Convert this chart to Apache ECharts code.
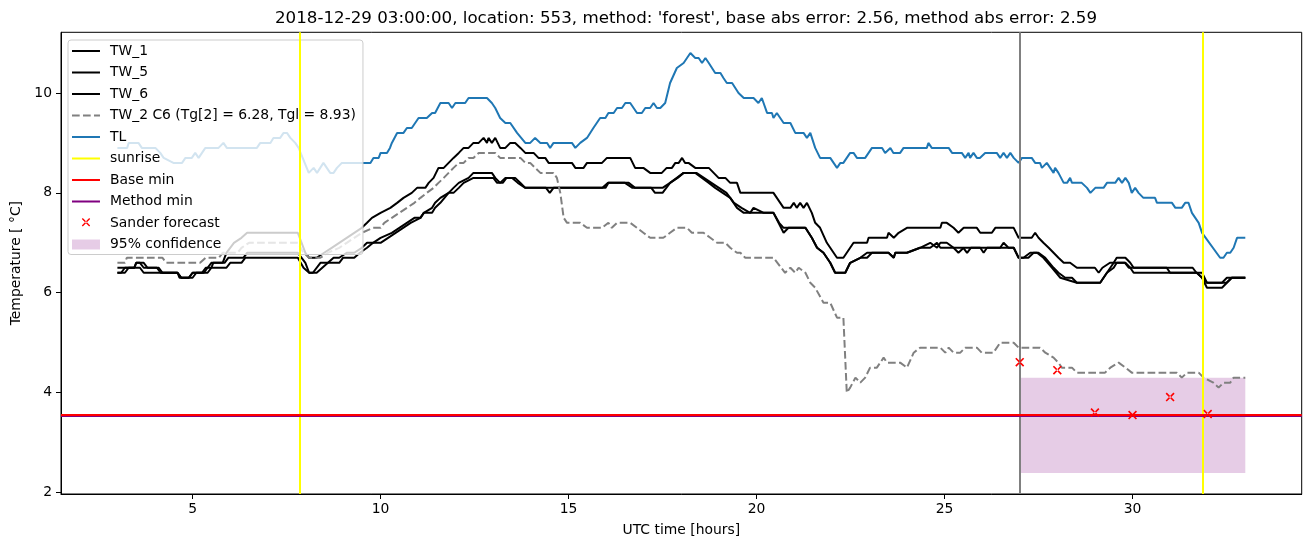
<!DOCTYPE html>
<html><head><meta charset="utf-8">
<script src="https://cdn.jsdelivr.net/npm/echarts@6/dist/echarts.min.js"></script>
<style>html,body{margin:0;padding:0;background:#fff}#c{width:1310px;height:547px}</style>
</head><body><div id="c"></div>
<script>
const titleText = "2018-12-29 03:00:00, location: 553, method: 'forest', base abs error: 2.56, method abs error: 2.59";
const xTicks = [5, 10, 15, 20, 25, 30];
const yTicks = [2, 4, 6, 8, 10];

const TW_1 = [[3.0,6.5],[3.45,6.5],[3.5,6.6],[3.7,6.6],[3.8,6.5],[4.1,6.5],[4.2,6.4],[4.6,6.4],[4.7,6.3],[4.9,6.3],[5.0,6.4],[5.3,6.4],[5.4,6.5],[5.5,6.6],[5.8,6.6],[5.9,6.8],[6.1,7.0],[6.3,7.1],[6.45,7.2],[7.8,7.2],[7.9,7.0],[8.0,6.8],[8.1,6.7],[8.3,6.7],[8.5,6.8],[8.7,6.9],[8.9,7.0],[9.1,7.1],[9.3,7.2],[9.5,7.3],[9.64,7.4],[9.77,7.5],[10.0,7.6],[10.26,7.7],[10.44,7.8],[10.61,7.9],[10.83,8.0],[10.97,8.1],[11.19,8.1],[11.28,8.2],[11.41,8.3],[11.54,8.5],[11.68,8.5],[11.81,8.6],[11.94,8.7],[12.08,8.8],[12.21,8.9],[12.34,8.9],[12.47,9.0],[12.61,9.0],[12.74,9.1],[12.83,9.0],[12.87,9.1],[12.96,9.0],[13.05,9.1],[13.18,8.9],[13.32,8.9],[13.45,9.0],[13.58,9.0],[13.72,8.9],[13.85,8.8],[14.07,8.8],[14.20,8.7],[14.38,8.7],[14.47,8.6],[15.09,8.6],[15.18,8.5],[15.40,8.5],[15.49,8.6],[15.89,8.6],[16.02,8.7],[16.64,8.7],[16.77,8.5],[16.99,8.5],[17.17,8.4],[17.48,8.4],[17.61,8.5],[17.75,8.5],[17.84,8.6],[17.93,8.6],[18.02,8.7],[18.10,8.6],[18.19,8.6],[18.37,8.5],[18.73,8.5],[18.86,8.4],[18.99,8.3],[19.17,8.3],[19.30,8.2],[19.48,8.2],[19.57,8.0],[20.45,8.0],[20.72,7.7],[20.90,7.7],[20.99,7.8],[21.07,7.7],[21.16,7.8],[21.25,7.7],[21.34,7.8],[21.47,7.6],[21.56,7.4],[21.69,7.3],[21.87,7.0],[22.14,6.7],[22.31,6.7],[22.58,7.0],[22.94,7.0],[22.98,7.1],[23.47,7.1],[23.51,7.2],[23.65,7.1],[23.78,7.2],[24.00,7.3],[24.89,7.3],[24.93,7.4],[25.06,7.4],[25.24,7.3],[25.37,7.2],[25.51,7.3],[25.86,7.3],[25.95,7.2],[26.26,7.2],[26.35,7.3],[26.84,7.3],[26.97,7.1],[27.32,7.1],[27.41,7.2],[27.50,7.1],[27.63,7.0],[27.77,6.9],[27.90,6.8],[28.03,6.7],[28.17,6.6],[28.34,6.6],[28.52,6.5],[29.0,6.5],[29.1,6.4],[29.2,6.5],[29.4,6.6],[29.8,6.6],[29.9,6.5],[31.6,6.5],[31.7,6.4],[31.85,6.4],[31.98,6.2],[32.5,6.2],[32.64,6.3],[33.0,6.3]];

const TW_5 = [[3.0,6.4],[3.1,6.4],[3.2,6.5],[3.45,6.5],[3.5,6.6],[3.6,6.6],[3.7,6.5],[4.05,6.5],[4.15,6.4],[4.6,6.4],[4.65,6.3],[4.9,6.3],[5.0,6.4],[5.25,6.4],[5.35,6.5],[5.5,6.5],[5.55,6.6],[5.85,6.6],[5.95,6.7],[6.35,6.7],[6.45,6.8],[7.8,6.8],[8.0,6.6],[8.1,6.4],[8.2,6.4],[8.4,6.6],[8.6,6.6],[8.75,6.7],[8.9,6.7],[9.1,6.8],[9.3,6.8],[9.5,6.9],[9.64,7.0],[9.8,7.0],[10.0,7.1],[10.3,7.2],[10.5,7.3],[10.7,7.4],[10.9,7.5],[11.06,7.5],[11.15,7.6],[11.37,7.7],[11.45,7.8],[11.59,7.9],[11.81,8.0],[11.94,8.1],[12.08,8.2],[12.34,8.3],[12.47,8.4],[12.96,8.4],[13.05,8.3],[13.18,8.2],[13.32,8.3],[13.58,8.3],[13.72,8.2],[13.85,8.1],[15.98,8.1],[16.06,8.2],[16.6,8.2],[16.77,8.1],[17.5,8.1],[17.7,8.2],[17.88,8.3],[18.06,8.4],[18.37,8.4],[18.55,8.3],[18.73,8.2],[18.9,8.1],[19.1,8.0],[19.3,7.9],[19.48,7.7],[19.66,7.6],[20.45,7.6],[20.6,7.4],[20.72,7.3],[21.3,7.3],[21.47,7.1],[21.61,6.9],[21.78,6.8],[21.96,6.6],[22.09,6.4],[22.36,6.4],[22.49,6.6],[22.76,6.7],[22.94,6.7],[23.07,6.8],[23.51,6.8],[23.65,6.7],[23.69,6.8],[24.0,6.8],[24.35,6.9],[24.62,7.0],[24.80,6.9],[24.89,7.0],[25.06,7.0],[25.24,6.9],[25.37,6.8],[25.51,6.9],[25.95,6.9],[26.04,6.8],[26.13,6.9],[26.48,6.9],[26.57,7.0],[26.70,6.9],[26.84,6.9],[26.97,6.7],[27.10,6.7],[27.28,6.8],[27.46,6.8],[27.63,6.7],[27.86,6.5],[28.08,6.3],[28.52,6.2],[29.14,6.2],[29.32,6.4],[29.50,6.6],[29.58,6.7],[29.81,6.7],[29.94,6.6],[30.03,6.5],[30.91,6.5],[31.00,6.4],[31.71,6.4],[31.85,6.3],[31.98,6.1],[32.38,6.1],[32.51,6.2],[32.64,6.3],[33.0,6.3]];

const TW_6 = [[3.0,6.4],[3.2,6.4],[3.3,6.5],[3.6,6.5],[3.7,6.4],[4.6,6.4],[4.7,6.3],[5.0,6.3],[5.1,6.4],[5.4,6.4],[5.5,6.5],[5.9,6.5],[6.0,6.6],[6.3,6.6],[6.4,6.7],[7.8,6.7],[7.95,6.5],[8.1,6.4],[8.3,6.4],[8.45,6.5],[8.6,6.6],[8.9,6.6],[9.0,6.7],[9.3,6.7],[9.45,6.8],[9.64,6.9],[9.8,7.0],[10.0,7.0],[10.2,7.1],[10.4,7.2],[10.6,7.3],[10.8,7.4],[11.06,7.5],[11.15,7.6],[11.37,7.6],[11.45,7.7],[11.59,7.8],[11.7,7.9],[11.81,8.0],[11.94,8.0],[12.08,8.1],[12.21,8.2],[12.47,8.3],[13.0,8.3],[13.1,8.2],[13.25,8.2],[13.35,8.3],[13.5,8.3],[13.65,8.2],[13.85,8.1],[14.4,8.1],[14.5,8.0],[14.6,8.1],[15.9,8.1],[16.05,8.2],[16.5,8.2],[16.7,8.1],[17.2,8.1],[17.3,8.0],[17.5,8.0],[17.7,8.2],[17.9,8.3],[18.06,8.4],[18.4,8.4],[18.6,8.3],[18.8,8.2],[19.0,8.1],[19.2,8.0],[19.4,7.8],[19.6,7.7],[19.83,7.6],[19.92,7.7],[20.19,7.6],[20.45,7.6],[20.72,7.2],[20.85,7.3],[21.3,7.3],[21.47,7.1],[21.61,6.9],[21.78,6.8],[21.96,6.6],[22.09,6.4],[22.36,6.4],[22.49,6.6],[22.76,6.7],[22.94,6.8],[23.51,6.8],[23.65,6.7],[23.69,6.8],[24.0,6.8],[24.35,6.9],[24.62,6.9],[24.80,7.0],[24.89,6.9],[25.5,6.9],[25.6,6.8],[25.7,6.9],[26.48,6.9],[26.84,6.9],[26.97,6.7],[27.23,6.7],[27.37,6.8],[27.50,6.8],[27.68,6.7],[27.90,6.5],[28.03,6.4],[28.21,6.3],[28.39,6.3],[28.52,6.2],[29.14,6.2],[29.32,6.4],[29.50,6.5],[29.58,6.6],[29.81,6.6],[29.94,6.5],[30.03,6.4],[30.91,6.4],[31.00,6.4],[31.71,6.4],[31.85,6.3],[31.98,6.2],[32.38,6.2],[32.51,6.3],[32.91,6.3],[33.0,6.3]];

const TW_2 = [[3.0,6.6],[3.2,6.6],[3.25,6.7],[4.2,6.7],[4.3,6.6],[5.2,6.6],[5.35,6.7],[5.7,6.7],[5.8,6.8],[6.2,6.8],[6.3,6.9],[6.5,7.0],[7.8,7.0],[7.95,6.8],[8.1,6.7],[8.4,6.7],[8.6,6.8],[8.9,6.9],[9.1,7.0],[9.3,7.1],[9.5,7.2],[9.8,7.3],[10.0,7.3],[10.1,7.4],[10.3,7.5],[10.5,7.6],[10.7,7.7],[10.9,7.8],[11.06,7.9],[11.23,8.0],[11.41,8.1],[11.54,8.2],[11.68,8.3],[11.81,8.4],[11.94,8.5],[12.08,8.6],[12.21,8.6],[12.34,8.7],[12.47,8.7],[12.61,8.8],[13.05,8.8],[13.18,8.7],[13.72,8.7],[13.85,8.6],[13.98,8.6],[14.11,8.5],[14.25,8.4],[14.60,8.4],[14.69,8.3],[14.78,8.0],[14.87,7.5],[14.96,7.4],[15.31,7.4],[15.49,7.3],[15.89,7.3],[16.06,7.4],[16.15,7.3],[16.29,7.4],[16.64,7.4],[16.82,7.3],[16.99,7.2],[17.17,7.1],[17.52,7.1],[17.70,7.2],[17.88,7.3],[18.15,7.3],[18.28,7.2],[18.59,7.2],[18.77,7.1],[18.95,7.0],[19.17,7.0],[19.30,6.9],[19.48,6.8],[19.57,6.8],[19.70,6.7],[20.45,6.7],[20.76,6.4],[20.90,6.5],[21.03,6.4],[21.12,6.5],[21.30,6.4],[21.43,6.2],[21.56,6.1],[21.78,5.8],[21.96,5.8],[22.14,5.5],[22.31,5.5],[22.40,4.0],[22.49,4.1],[22.63,4.3],[22.76,4.2],[22.89,4.3],[23.02,4.5],[23.20,4.5],[23.38,4.7],[23.47,4.6],[23.60,4.6],[23.82,4.6],[24.00,4.5],[24.18,4.8],[24.35,4.9],[24.89,4.9],[25.02,4.8],[25.11,4.9],[25.24,4.8],[25.42,4.8],[25.55,4.9],[25.86,4.9],[25.99,4.8],[26.30,4.8],[26.48,5.0],[26.84,5.0],[26.97,4.9],[27.54,4.9],[27.68,4.8],[27.90,4.7],[28.03,4.6],[28.12,4.5],[28.39,4.5],[28.52,4.4],[29.27,4.4],[29.41,4.5],[29.63,4.6],[29.67,4.6],[29.81,4.5],[29.98,4.4],[31.18,4.4],[31.31,4.3],[31.45,4.4],[31.76,4.4],[31.89,4.3],[32.15,4.2],[32.29,4.1],[32.42,4.2],[32.60,4.2],[32.69,4.3],[33.0,4.3]];

const TL = [[3.0,8.9],[3.26,8.9],[3.30,9.0],[3.56,9.0],[3.65,8.9],[4.01,8.9],[4.14,8.8],[4.23,8.7],[4.49,8.6],[4.72,8.6],[4.81,8.7],[4.98,8.7],[5.07,8.8],[5.16,8.7],[5.25,8.8],[5.34,8.9],[5.69,8.9],[5.82,9.0],[5.91,8.9],[6.71,8.9],[6.80,9.0],[7.07,9.0],[7.15,9.1],[7.33,9.1],[7.42,9.2],[7.51,9.2],[7.60,9.1],[7.73,9.0],[7.82,8.9],[8.09,8.4],[8.22,8.5],[8.31,8.4],[8.48,8.6],[8.66,8.4],[8.75,8.4],[8.84,8.5],[8.97,8.6],[9.73,8.6],[9.81,8.7],[9.95,8.7],[10.0,8.8],[10.17,8.8],[10.25,8.9],[10.30,9.0],[10.37,9.1],[10.44,9.2],[10.61,9.2],[10.70,9.3],[10.83,9.3],[10.92,9.4],[11.01,9.5],[11.23,9.5],[11.37,9.6],[11.45,9.6],[11.59,9.8],[11.81,9.8],[11.90,9.7],[11.99,9.8],[12.25,9.8],[12.34,9.9],[12.83,9.9],[12.96,9.8],[13.05,9.7],[13.18,9.5],[13.32,9.4],[13.45,9.4],[13.63,9.2],[13.85,9.0],[13.98,9.0],[14.11,9.1],[14.25,9.0],[14.43,9.0],[14.51,8.9],[14.60,9.0],[15.09,9.0],[15.18,8.9],[15.31,9.0],[15.49,9.1],[15.66,9.3],[15.84,9.5],[15.98,9.5],[16.06,9.6],[16.20,9.6],[16.29,9.7],[16.42,9.7],[16.51,9.8],[16.64,9.8],[16.82,9.6],[16.95,9.6],[17.04,9.7],[17.17,9.7],[17.26,9.8],[17.35,9.7],[17.44,9.7],[17.57,9.8],[17.70,10.2],[17.88,10.5],[18.06,10.6],[18.24,10.8],[18.37,10.7],[18.46,10.7],[18.55,10.6],[18.64,10.7],[18.73,10.6],[18.90,10.4],[19.04,10.4],[19.12,10.3],[19.21,10.2],[19.35,10.2],[19.52,10.0],[19.66,9.9],[19.92,9.9],[20.05,9.8],[20.14,9.9],[20.28,9.6],[20.41,9.6],[20.45,9.5],[20.54,9.6],[20.72,9.4],[20.90,9.4],[21.03,9.2],[21.25,9.2],[21.34,9.1],[21.43,9.2],[21.56,8.9],[21.69,8.7],[21.96,8.7],[22.14,8.5],[22.23,8.6],[22.31,8.6],[22.49,8.8],[22.58,8.8],[22.67,8.7],[22.89,8.7],[23.07,8.9],[23.34,8.9],[23.42,8.8],[23.56,8.9],[23.64,8.8],[23.82,8.8],[23.91,8.9],[24.53,8.9],[24.57,9.0],[24.66,8.9],[25.11,8.9],[25.20,8.8],[25.46,8.8],[25.55,8.7],[25.64,8.8],[25.68,8.7],[25.77,8.8],[25.86,8.7],[25.94,8.7],[26.08,8.8],[26.39,8.8],[26.48,8.7],[26.57,8.8],[26.66,8.7],[26.75,8.8],[26.84,8.7],[26.97,8.6],[27.06,8.7],[27.32,8.7],[27.41,8.6],[27.54,8.6],[27.59,8.5],[27.72,8.6],[27.81,8.5],[27.90,8.4],[27.94,8.5],[28.03,8.4],[28.17,8.2],[28.26,8.2],[28.34,8.3],[28.39,8.2],[28.65,8.2],[28.79,8.1],[28.88,8.0],[29.01,8.1],[29.23,8.1],[29.32,8.2],[29.54,8.2],[29.63,8.3],[29.72,8.2],[29.81,8.3],[29.90,8.2],[29.98,8.0],[30.07,8.1],[30.16,8.0],[30.29,7.9],[30.60,7.9],[30.65,7.8],[31.05,7.8],[31.14,7.7],[31.31,7.7],[31.40,7.8],[31.49,7.8],[31.58,7.6],[31.67,7.5],[31.76,7.4],[31.85,7.2],[32.33,6.7],[32.42,6.7],[32.51,6.8],[32.60,6.8],[32.69,6.9],[32.78,7.1],[33.0,7.1]];

const sunriseTimes = [7.86, 31.86];
const forecastTime = [27.0];
const baseMin = [3.56];
const methodMin = [3.53];
const sanderTimes = [27, 28, 29, 30, 31, 32];
const sanderValues = [4.61, 4.45, 3.60, 3.55, 3.91, 3.57];
const confStart = [27.0], confEnd = [33.0], confLow = [2.39], confHigh = [4.30];

const names = ['TW_1','TW_5','TW_6','TW_2 C6 (Tg[2] = 6.28, Tgl = 8.93)','TL','sunrise','Base min','Method min','Sander forecast','95% confidence'];

const FONT = 'DejaVu Sans';
const B0 = 'M0,0h0.01v0.01h-0.01Z M33,14h0.01v0.01h-0.01Z ';
const solidIcon = 'path://' + B0 + 'M0,5.9h28v2.2h-28Z';
const dashIcon = 'path://' + B0 + 'M0,5.9h7.7v2.2h-7.7Z M11,5.9h7.7v2.2h-7.7Z M22,5.9h6v2.2h-6Z';
const xIcon = 'path://' + B0 + 'M9.8,3.1l1,-1l7.4,7.4l-1,1Z M18.2,3.1l-1,-1l-7.4,7.4l1,1Z';
const boxIcon = 'path://' + B0 + 'M0,2h28v10h-28Z';
const xMarker = 'path://M0,1.3L1.3,0L10,8.7L8.7,10Z M10,1.3L8.7,0L0,8.7L1.3,10Z';

function lineSeries(name, data, color, dashed) {
  return { name, type: 'line', data, showSymbol: false, symbol: 'none', z: 2,
    itemStyle: { color }, lineStyle: { color, width: 2, type: dashed ? [7.7, 3.3] : 'solid' }, animation: false };
}
const noSym = ['none', 'none'];

const option = {
  animation: false,
  title: { text: titleText, left: 681, top: 5, textAlign: 'center',
    textStyle: { fontFamily: FONT, fontSize: 16.7, fontWeight: 'normal', color: '#000' } },
  grid: { left: 61, right: 8.3, top: 32.3, bottom: 53, show: true, borderColor: '#000', borderWidth: 1, backgroundColor: 'transparent' },
  xAxis: { type: 'value', min: 1.5, max: 34.5, name: 'UTC time [hours]', nameLocation: 'middle', nameGap: 29,
    nameTextStyle: { fontFamily: FONT, fontSize: 13.9, color: '#000' },
    axisLine: { show: true, onZero: false, lineStyle: { color: '#000', width: 1 } },
    axisTick: { show: true, length: 5, lineStyle: { color: '#000', width: 1 }, customValues: xTicks },
    axisLabel: { fontFamily: FONT, fontSize: 13.9, color: '#000', margin: 8, customValues: xTicks },
    splitLine: { show: false } },
  yAxis: { type: 'value', min: 1.97, max: 11.215, name: 'Temperature [ °C]', nameLocation: 'middle', nameGap: 36,
    nameTextStyle: { fontFamily: FONT, fontSize: 13.9, color: '#000' },
    axisLine: { show: true, onZero: false, lineStyle: { color: '#000', width: 1 } },
    axisTick: { show: true, length: 5, lineStyle: { color: '#000', width: 1 }, customValues: yTicks },
    axisLabel: { fontFamily: FONT, fontSize: 13.9, color: '#000', margin: 9, customValues: yTicks },
    splitLine: { show: false } },
  legend: {
    left: 68, top: 40, orient: 'vertical', itemGap: 7.5, itemWidth: 33, itemHeight: 14,
    padding: [4, 7, 3, 4], backgroundColor: 'rgba(255,255,255,0.8)', borderColor: '#cccccc', borderWidth: 1, borderRadius: 3,
    textStyle: { fontFamily: FONT, fontSize: 13.9, color: '#000', lineHeight: 14 },
    data: [
      { name: names[0], icon: solidIcon }, { name: names[1], icon: solidIcon }, { name: names[2], icon: solidIcon },
      { name: names[3], icon: dashIcon }, { name: names[4], icon: solidIcon }, { name: names[5], icon: solidIcon },
      { name: names[6], icon: solidIcon }, { name: names[7], icon: solidIcon }, { name: names[8], icon: xIcon },
      { name: names[9], icon: boxIcon }
    ],
    selectedMode: false
  },
  series: [
    lineSeries(names[0], TW_1, '#000000', false),
    lineSeries(names[1], TW_5, '#000000', false),
    lineSeries(names[2], TW_6, '#000000', false),
    lineSeries(names[3], TW_2, '#808080', true),
    lineSeries(names[4], TL, '#1f77b4', false),
    { name: names[5], type: 'line', data: [], itemStyle: { color: '#ffff00' },
      markLine: { silent: true, symbol: noSym, label: { show: false }, animation: false,
        lineStyle: { color: '#ffff00', width: 2, type: 'solid' },
        data: sunriseTimes.map(t => ({ xAxis: t })) } },
    { name: 'forecast', type: 'line', data: [], itemStyle: { color: '#808080' },
      markLine: { silent: true, symbol: noSym, label: { show: false }, animation: false,
        lineStyle: { color: '#808080', width: 2, type: 'solid' },
        data: forecastTime.map(t => ({ xAxis: t })) } },
    { name: names[7], type: 'line', data: [], z: 3, itemStyle: { color: '#800080' },
      markLine: { silent: true, symbol: noSym, label: { show: false }, animation: false,
        lineStyle: { color: '#800080', width: 2, type: 'solid' },
        data: methodMin.map(v => ({ yAxis: v })) } },
    { name: names[6], type: 'line', data: [], z: 4, itemStyle: { color: '#ff0000' },
      markLine: { silent: true, symbol: noSym, label: { show: false }, animation: false,
        lineStyle: { color: '#ff0000', width: 2, type: 'solid' },
        data: baseMin.map(v => ({ yAxis: v })) } },
    { name: names[8], type: 'scatter', z: 5, symbol: xMarker, symbolSize: 9,
      itemStyle: { color: '#ff0000', opacity: 1 },
      data: sanderTimes.map((t, i) => [t, sanderValues[i]]) },
    { name: names[9], type: 'line', data: [], z: 1, itemStyle: { color: 'rgba(128,0,128,0.2)' },
      markArea: { silent: true, animation: false, itemStyle: { color: 'rgba(128,0,128,0.2)' },
        data: confStart.map((s, i) => [{ xAxis: s, yAxis: confLow[i] }, { xAxis: confEnd[i], yAxis: confHigh[i] }]) } }
  ]
};
const chart = echarts.init(document.getElementById('c'), null, { renderer: 'canvas' });
chart.setOption(option);
</script></body></html>
